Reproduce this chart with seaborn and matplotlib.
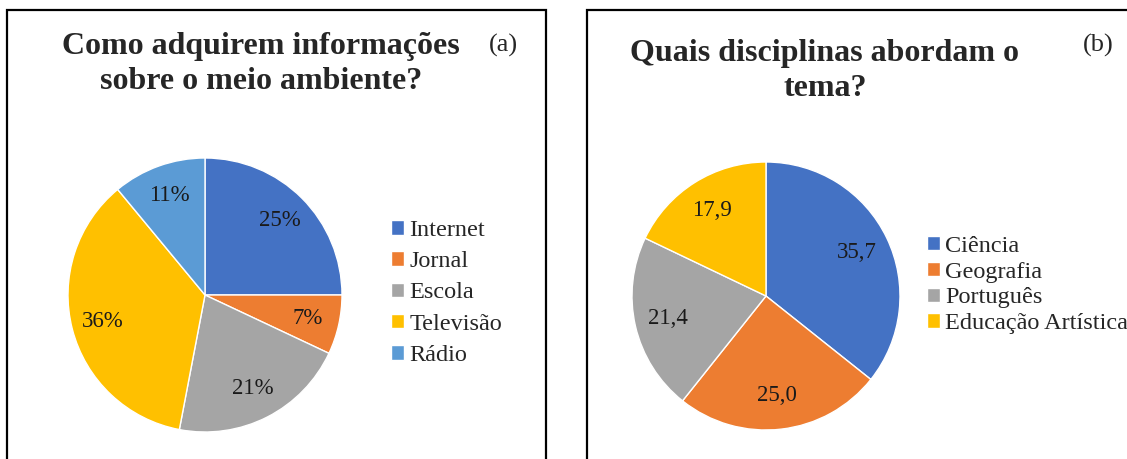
import matplotlib
matplotlib.use("Agg")
import matplotlib.pyplot as plt
import seaborn as sns
from matplotlib.patches import Rectangle

# (a) Como adquirem informações sobre o meio ambiente?
fontes = ["Internet", "Jornal", "Escola", "Televisão", "Rádio"]
fontes_pct = [25, 7, 21, 36, 11]

# (b) Quais disciplinas abordam o tema?
disciplinas = ["Ciência", "Geografia", "Português", "Educação Artística"]
disciplinas_pct = [35.7, 25.0, 21.4, 17.9]

office = ["#4472C4", "#ED7D31", "#A5A5A5", "#FFC000", "#5B9BD5"]

sns.set_theme(style="white")
plt.rcParams["font.family"] = ["Liberation Serif", "DejaVu Serif"]

W, H = 1127, 459
fig = plt.figure(figsize=(W / 100, H / 100), dpi=100)


def px_axes(cx, cy, r):
    # square axes holding a pie of radius r centred at pixel (cx, cy), y from top
    return fig.add_axes([(cx - r) / W, (H - cy - r) / H, 2 * r / W, 2 * r / H])


pal = sns.color_palette(office)

ax1 = px_axes(205, 295, 137)
w1, _, t1 = ax1.pie(fontes_pct, colors=pal[:5], startangle=90, counterclock=False,
                    autopct=lambda p: f"{p:.0f}%", pctdistance=0.77,
                    textprops={"fontsize": 16.5, "color": "#1a1a1a"})
ax1.set_xlim(-1, 1)
ax1.set_ylim(-1, 1)
ax1.legend(w1, fontes, loc="center left", bbox_to_anchor=((391 - 68) / 274, 0.5 - (293 - 295) / 274),
           frameon=False, fontsize=17.5, handlelength=0.55, handleheight=0.55, handletextpad=0.2,
           labelspacing=0.42, borderpad=0, borderaxespad=0)

ax2 = px_axes(766, 296, 134)
w2, _, t2 = ax2.pie(disciplinas_pct, colors=pal[:4], startangle=90, counterclock=False,
                    autopct=lambda p: f"{p:.1f}".replace(".", ","), pctdistance=0.75,
                    textprops={"fontsize": 16.5, "color": "#1a1a1a"})
ax2.set_xlim(-1, 1)
ax2.set_ylim(-1, 1)
ax2.legend(w2, disciplinas, loc="center left", bbox_to_anchor=((927 - 632) / 268, 0.5 - (285 - 296) / 268),
           frameon=False, fontsize=17.5, handlelength=0.55, handleheight=0.55, handletextpad=0.2,
           labelspacing=0.2, borderpad=0, borderaxespad=0)

# titles
fig.text(261 / W, 1 - 64 / H, "Como adquirem informações\nsobre o meio ambiente?", ha="center", va="center",
         fontsize=23, fontweight="bold", linespacing=1.27)
fig.text(503 / W, 1 - 45 / H, "(a)", ha="center", va="center", fontsize=19)
fig.text(825 / W, 1 - 71 / H, "Quais disciplinas abordam o\ntema?", ha="center", va="center",
         fontsize=23, fontweight="bold", linespacing=1.3)
fig.text(1098 / W, 1 - 45 / H, "(b)", ha="center", va="center", fontsize=19)

# panel frames
fig.patches.append(Rectangle((7 / W, -0.05), (546 - 7) / W, 1.05 - 10 / H, transform=fig.transFigure,
                             fill=False, edgecolor="black", linewidth=1.6))
fig.patches.append(Rectangle((587 / W, -0.05), 0.5, 1.05 - 10 / H, transform=fig.transFigure,
                             fill=False, edgecolor="black", linewidth=1.6))

fig.savefig("out.png", dpi=100)
